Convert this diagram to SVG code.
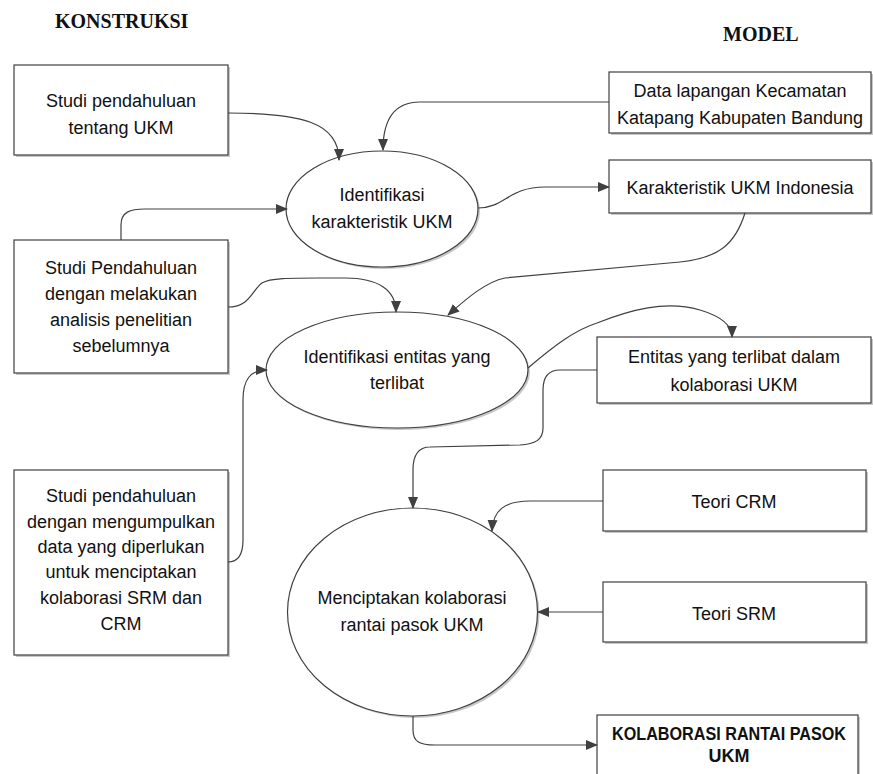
<svg xmlns="http://www.w3.org/2000/svg" width="873" height="774" viewBox="0 0 873 774">
<defs>
<style>
.box{fill:#fff;stroke:#404040;stroke-width:1.2}
.sh{fill:#c8c8c8;stroke:none}
.t{font-family:"Liberation Sans",Arial,sans-serif;font-size:18px;fill:#111;text-anchor:middle}
.b{font-family:"Liberation Sans",Arial,sans-serif;font-size:18px;font-weight:bold;fill:#111;text-anchor:middle}
.h{font-family:"Liberation Serif","Times New Roman",serif;font-size:20px;font-weight:bold;fill:#111}
.c{fill:none;stroke:#404040;stroke-width:1.2}
</style>
<marker id="ar" markerWidth="12" markerHeight="10" refX="11" refY="5" orient="auto" markerUnits="userSpaceOnUse">
<path d="M0,0 L12,5 L0,10 Z" fill="#404040"/>
</marker>
</defs>
<rect width="873" height="774" fill="#fff"/>
<text class="h" x="55" y="28">KONSTRUKSI</text>
<text class="h" x="723" y="41">MODEL</text>

<g id="n1">
<rect class="sh" x="16" y="67" width="214" height="90"/>
<rect class="box" x="14" y="65" width="214" height="90"/>
<text class="t" x="121" y="107">Studi pendahuluan</text>
<text class="t" x="121" y="134">tentang UKM</text>
</g>
<g id="n2">
<rect class="sh" x="611" y="74" width="262" height="61"/>
<rect class="box" x="609" y="72" width="262" height="61"/>
<text class="t" x="740" y="97">Data lapangan Kecamatan</text>
<text class="t" x="740" y="124">Katapang Kabupaten Bandung</text>
</g>
<g id="n3">
<ellipse class="sh" cx="384" cy="211" rx="96" ry="58"/>
<ellipse class="box" cx="382" cy="209" rx="96" ry="58"/>
<text class="t" x="382" y="201">Identifikasi</text>
<text class="t" x="382" y="228">karakteristik UKM</text>
</g>
<g id="n4">
<rect class="sh" x="611" y="162" width="262" height="53"/>
<rect class="box" x="609" y="160" width="262" height="53"/>
<text class="t" x="740" y="194">Karakteristik UKM Indonesia</text>
</g>
<g id="n5">
<rect class="sh" x="16" y="242" width="214" height="133"/>
<rect class="box" x="14" y="240" width="214" height="133"/>
<text class="t" x="121" y="274">Studi Pendahuluan</text>
<text class="t" x="121" y="300">dengan melakukan</text>
<text class="t" x="121" y="326">analisis penelitian</text>
<text class="t" x="121" y="352">sebelumnya</text>
</g>
<g id="n6">
<ellipse class="sh" cx="399" cy="372" rx="131" ry="58"/>
<ellipse class="box" cx="397" cy="370" rx="131" ry="58"/>
<text class="t" x="397" y="363">Identifikasi entitas yang</text>
<text class="t" x="397" y="389">terlibat</text>
</g>
<g id="n7">
<rect class="sh" x="599" y="339" width="274" height="66"/>
<rect class="box" x="597" y="337" width="274" height="66"/>
<text class="t" x="734" y="363">Entitas yang terlibat dalam</text>
<text class="t" x="734" y="391">kolaborasi UKM</text>
</g>
<g id="n8">
<rect class="sh" x="16" y="472" width="214" height="185"/>
<rect class="box" x="14" y="470" width="214" height="185"/>
<text class="t" x="121" y="502">Studi pendahuluan</text>
<text class="t" x="121" y="528">dengan mengumpulkan</text>
<text class="t" x="121" y="553">data yang diperlukan</text>
<text class="t" x="121" y="578">untuk menciptakan</text>
<text class="t" x="121" y="604">kolaborasi SRM dan</text>
<text class="t" x="121" y="630">CRM</text>
</g>
<g id="n9">
<rect class="sh" x="605" y="472" width="263" height="61"/>
<rect class="box" x="603" y="470" width="263" height="61"/>
<text class="t" x="734" y="508">Teori CRM</text>
</g>
<g id="n10">
<ellipse class="sh" cx="414.5" cy="614" rx="125" ry="104"/>
<ellipse class="box" cx="412.5" cy="612" rx="125" ry="104"/>
<text class="t" x="412" y="604">Menciptakan kolaborasi</text>
<text class="t" x="412" y="631">rantai pasok UKM</text>
</g>
<g id="n11">
<rect class="sh" x="605" y="584" width="263" height="60"/>
<rect class="box" x="603" y="582" width="263" height="60"/>
<text class="t" x="734" y="620">Teori SRM</text>
</g>
<g id="n12">
<rect class="sh" x="599" y="717" width="261" height="80"/>
<rect class="box" x="597" y="715" width="261" height="80"/>
<text class="b" x="729" y="740" textLength="234" lengthAdjust="spacingAndGlyphs">KOLABORASI RANTAI PASOK</text>
<text class="b" x="729" y="762">UKM</text>
</g>

<g id="connectors">
<path class="c" marker-end="url(#ar)" d="M228,113 C300,113 339,122 339,160"/>
<path class="c" marker-end="url(#ar)" d="M609,102 L420,102 C395,102 383,118 383,150"/>
<path class="c" marker-end="url(#ar)" d="M478,208 C505,208 508,187 545,187 L609,187"/>
<path class="c" marker-end="url(#ar)" d="M121,240 L121,225 C121,212 130,209 145,209 L287,209"/>
<path class="c" marker-end="url(#ar)" d="M745,213 C735,245 718,258 680,262 L505,278 C485,282 465,300 448,315"/>
<path class="c" marker-end="url(#ar)" d="M228,307 C250,307 252,290 262,283 C270,278 290,278 320,278 L345,278 C378,278 396,290 396,312"/>
<path class="c" marker-end="url(#ar)" d="M528,368 C555,345 575,330 597,323 C630,310 665,300 700,310 C720,316 732,325 732,337"/>
<path class="c" marker-end="url(#ar)" d="M228,562 C238,562 243,555 243,540 L243,400 C243,380 250,370 267,370"/>
<path class="c" marker-end="url(#ar)" d="M597,370 L560,370 C548,370 543,378 543,390 L543,428 C543,440 535,444 520,445 L430,447 C418,447 413,455 413,470 L413,508"/>
<path class="c" marker-end="url(#ar)" d="M603,501 L530,501 C505,501 493,510 492,531"/>
<path class="c" marker-end="url(#ar)" d="M603,612 L538,612"/>
<path class="c" marker-end="url(#ar)" d="M413,716 L413,730 C413,742 420,745 435,745 L597,745"/>
</g>
</svg>
